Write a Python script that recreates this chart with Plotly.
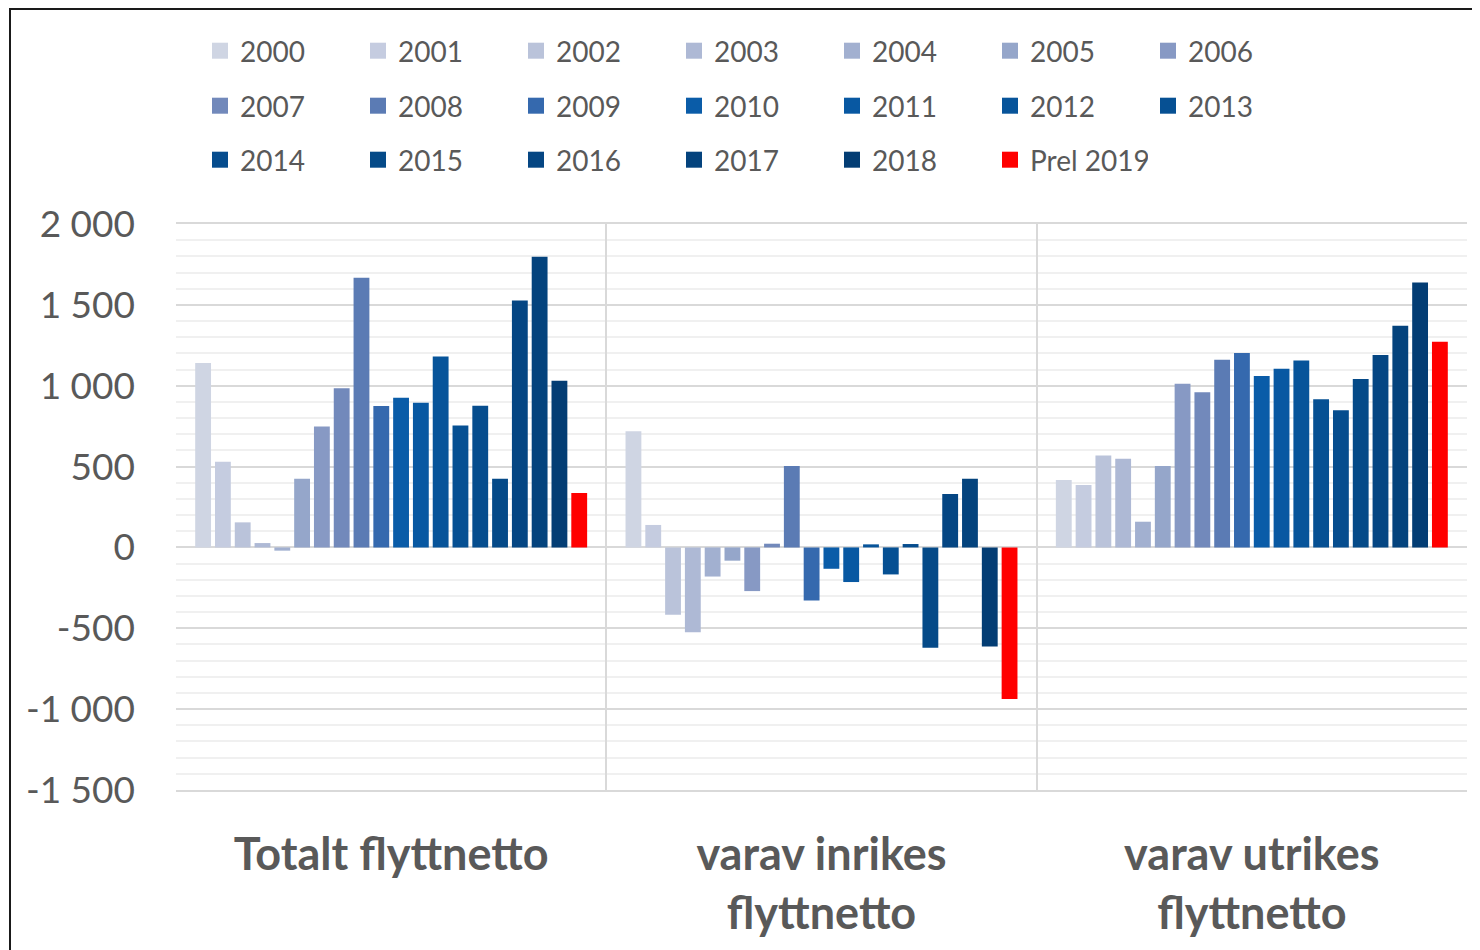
import plotly.graph_objects as go

categories = ["Totalt flyttnetto", "varav inrikes<br>flyttnetto", "varav utrikes<br>flyttnetto"]
series_names = ["2000", "2001", "2002", "2003", "2004", "2005", "2006", "2007", "2008", "2009",
                "2010", "2011", "2012", "2013", "2014", "2015", "2016", "2017", "2018", "Prel 2019"]

totalt = [1140, 530, 155, 27, -20, 425, 748, 985, 1668, 874,
          925, 895, 1181, 754, 876, 424, 1527, 1798, 1031, 336]
inrikes = [719, 139, -417, -524, -180, -82, -270, 23, 504, -328,
           -132, -214, 19, -167, 21, -621, 331, 425, -613, -937]
utrikes = [417, 386, 568, 549, 159, 504, 1012, 960, 1161, 1202,
           1060, 1105, 1156, 917, 849, 1041, 1190, 1371, 1639, 1272]

colors = ["#cfd5e3", "#c5cce0", "#bac3da", "#aeb9d5", "#a2b0d0", "#95a6ca", "#8799c4",
          "#7289bb", "#5b7bb4", "#3569ae", "#0a5ca8", "#0858a2", "#07549a", "#065093",
          "#064d8e", "#054a88", "#054683", "#04437d", "#033d74", "#ff0000"]

y_tickvals = [2000, 1500, 1000, 500, 0, -500, -1000, -1500]
y_ticktext = ["2 000", "1 500", "1 000", "500", "0", "-500", "-1 000", "-1 500"]

FONT = "Lato, 'Open Sans', sans-serif"
TEXT = "#595959"

# the page body adds an 8px offset, so figure coords = page coords - 8
L, R, T, B = 168, 21, 216, 168
PW, PH = 1480 - L - R, 950 - T - B

fig = go.Figure()
legend_ids = ["legend", "legend2", "legend3"]
for i, name in enumerate(series_names):
    fig.add_trace(go.Bar(
        x=categories,
        y=[totalt[i], inrikes[i], utrikes[i]],
        name=name,
        marker=dict(color=colors[i], line=dict(width=0)),
        showlegend=False,
    ))
    # legend proxy with a bigger square swatch
    fig.add_trace(go.Scatter(
        x=[None], y=[None], mode="markers", name=name,
        marker=dict(symbol="square", size=16, color=colors[i]),
        legend=legend_ids[i // 7],
    ))

legend_common = dict(
    orientation="h",
    xref="container", yref="container",
    x=192 / 1480, xanchor="left", yanchor="middle",
    entrywidth=113, entrywidthmode="pixels",
    font=dict(family=FONT, size=28, color=TEXT),
    bgcolor="rgba(0,0,0,0)",
    traceorder="normal",
)

fig.update_layout(
    width=1480, height=950,
    margin=dict(l=L, r=R, t=T, b=B),
    plot_bgcolor="white", paper_bgcolor="white",
    barmode="group", bargap=0.08, bargroupgap=0.2,
    font=dict(family=FONT, color=TEXT),
    legend=dict(legend_common, y=1 - 43 / 950),
    legend2=dict(legend_common, y=1 - 98 / 950),
    legend3=dict(legend_common, y=1 - 152 / 950),
    xaxis=dict(
        tickson="boundaries", showgrid=True, gridcolor="#d9d9d9", gridwidth=2,
        ticks="", ticklabelstandoff=24,
        tickfont=dict(family=FONT, size=45, color=TEXT, weight="bold"),
        showline=True, linecolor="#d9d9d9", linewidth=2, mirror=True,
        zeroline=False,
    ),
    yaxis=dict(
        range=[-1500, 2000], tickvals=y_tickvals, ticktext=y_ticktext,
        showgrid=True, gridcolor="#d9d9d9", gridwidth=2,
        minor=dict(dtick=100, showgrid=True, gridcolor="#f0f0f0", gridwidth=2),
        zeroline=True, zerolinecolor="#d9d9d9", zerolinewidth=2,
        ticks="", ticklabelstandoff=40,
        tickfont=dict(family=FONT, size=37, color=TEXT),
        showline=False,
    ),
    shapes=[dict(
        type="rect", xref="paper", yref="paper",
        x0=(2 - L) / PW, x1=(1490 - L) / PW,
        y0=(T + PH - 980) / PH, y1=(T + PH - 1) / PH,
        line=dict(color="#1a1a1a", width=2), layer="below",
    )],
)

fig.write_html("out.html")
